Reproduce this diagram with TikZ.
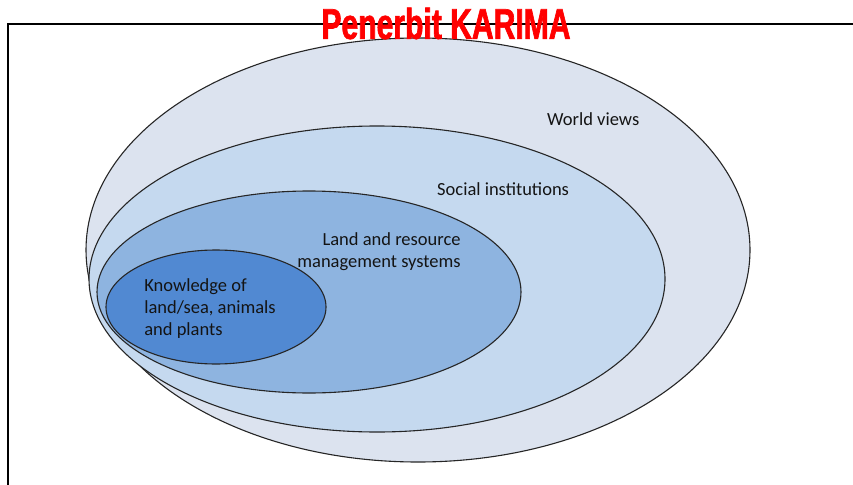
\documentclass[tikz,border=0pt]{standalone}
\usepackage{fontspec}
\setmainfont{Carlito}
\newfontfamily\stampfont[FakeStretch=0.70,FakeBold=1.5]{Liberation Sans Bold}
\definecolor{cworld}{HTML}{DCE3EF}
\definecolor{csocial}{HTML}{C5D9EF}
\definecolor{cland}{HTML}{8EB4E0}
\definecolor{cknow}{HTML}{5189D2}
\definecolor{stampred}{HTML}{FF0000}
\tikzset{
  ring/.style={draw=black!85, line width=1.1pt},
  lbl/.style={inner sep=0pt, font=\fontsize{18.5}{22}\selectfont, text=black!92},
}
\begin{document}
\begin{tikzpicture}[x=1pt,y=-1pt]
\useasboundingbox (0,0) rectangle (853,484);
\fill[white] (0,0) rectangle (853,484);
% frame
\draw[line width=2.2pt, line cap=rect] (8,484) -- (8,24) -- (853,24);
% ellipses
\fill[ring, fill=cworld]  (418,250) ellipse [x radius=332, y radius=212];
\fill[ring, fill=csocial] (377,279) ellipse [x radius=288, y radius=153];
\fill[ring, fill=cland]   (309,292) ellipse [x radius=212, y radius=101];
\fill[ring, fill=cknow]   (216,307) ellipse [x radius=110, y radius=57];
% labels
\node[lbl, anchor=base west] (world) at (547,125) {World views};
\node[lbl, anchor=base west] (social) at (437,195) {Social institutions};
\node[lbl, align=right] (land) at (379,251.5) {Land and resource\\management systems};
\node[lbl, align=left] (know) at (210,309) {Knowledge of\\land/sea, animals\\and plants};
% stamp
\node[inner sep=0pt, text=stampred, font=\stampfont\fontsize{43}{43}\selectfont] (stamp) at (446,23.5) {Penerbit KARIMA};
\end{tikzpicture}
\end{document}
